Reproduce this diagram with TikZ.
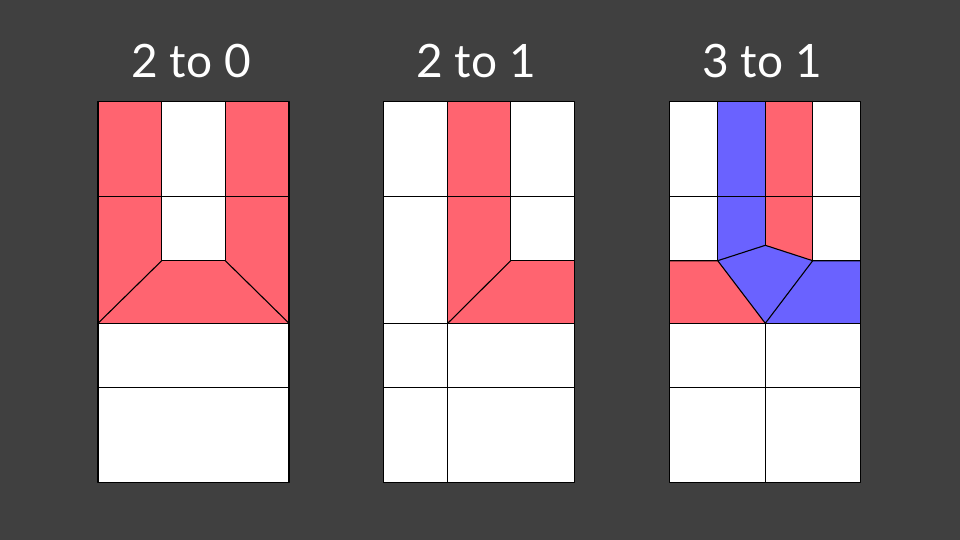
\documentclass[tikz,border=0pt]{standalone}
\usepackage{fontspec}
\setmainfont{Lato}
\definecolor{bg}{HTML}{404040}
\definecolor{rd}{HTML}{FF6470}
\definecolor{bl}{HTML}{6A62FF}
\begin{document}
\begin{tikzpicture}[x=1pt,y=-1pt,
  cell/.style={draw=black,line width=1.1pt,line join=round},
  ttl/.style={text=white,font=\fontsize{46}{46}\selectfont,anchor=base}]
\fill[bg] (0,0) rectangle (960,540);
\useasboundingbox (0,0) rectangle (960,540);
% ---------- panel 1: 2 to 0
\node[ttl] (t1) at (191,78) {2 to 0};
\fill[white] (98,101.7) rectangle (289,482.3);
\fill[rd] (98,101.7) rectangle (161.7,196.7);
\fill[rd] (225.3,101.7) rectangle (289,196.7);
\fill[rd] (98,196.7) -- (161.7,196.7) -- (161.7,260.7) -- (225.3,260.7) -- (225.3,196.7) -- (289,196.7) -- (289,323.3) -- (98,323.3) -- cycle;
\draw[cell] (98,101.7) rectangle (289,482.3);
\draw[cell] (98,196.7) -- (289,196.7);
\draw[cell] (161.7,101.7) -- (161.7,260.7) -- (225.3,260.7) -- (225.3,101.7);
\draw[cell] (98,323.3) -- (161.7,260.7);
\draw[cell] (289,323.3) -- (225.3,260.7);
\draw[cell] (98,323.3) -- (289,323.3);
\draw[cell] (98,387.3) -- (289,387.3);
% ---------- panel 2: 2 to 1
\node[ttl] (t2) at (476,78) {2 to 1};
\fill[white] (383.3,101.7) rectangle (574.3,482.3);
\fill[rd] (447.7,101.7) -- (510.7,101.7) -- (510.7,260.7) -- (574.3,260.7) -- (574.3,323.3) -- (447.7,323.3) -- cycle;
\draw[cell] (383.3,101.7) rectangle (574.3,482.3);
\draw[cell] (383.3,196.7) -- (574.3,196.7);
\draw[cell] (447.7,101.7) -- (447.7,482.3);
\draw[cell] (510.7,101.7) -- (510.7,260.7) -- (574.3,260.7);
\draw[cell] (447.7,323.3) -- (510.7,260.7);
\draw[cell] (383.3,323.3) -- (574.3,323.3);
\draw[cell] (383.3,387.3) -- (574.3,387.3);
% ---------- panel 3: 3 to 1
\node[ttl] (t3) at (762,78) {3 to 1};
\fill[white] (669.3,101.7) rectangle (860.3,482.3);
\fill[bl] (717.7,101.7) -- (765.3,101.7) -- (765.3,245.3) -- (812.7,260.7) -- (860.3,260.7) -- (860.3,323.3) -- (765.3,323.3) -- (717.7,260.7) -- cycle;
\fill[rd] (765.3,101.7) -- (812.7,101.7) -- (812.7,260.7) -- (765.3,245.3) -- cycle;
\fill[rd] (669.3,260.7) -- (717.7,260.7) -- (765.3,323.3) -- (669.3,323.3) -- cycle;
\draw[cell] (669.3,101.7) rectangle (860.3,482.3);
\draw[cell] (669.3,196.7) -- (860.3,196.7);
\draw[cell] (717.7,101.7) -- (717.7,260.7);
\draw[cell] (812.7,101.7) -- (812.7,260.7);
\draw[cell] (765.3,101.7) -- (765.3,245.3);
\draw[cell] (669.3,260.7) -- (717.7,260.7) -- (765.3,245.3) -- (812.7,260.7) -- (860.3,260.7);
\draw[cell] (717.7,260.7) -- (765.3,323.3) -- (812.7,260.7);
\draw[cell] (669.3,323.3) -- (860.3,323.3);
\draw[cell] (669.3,387.3) -- (860.3,387.3);
\draw[cell] (765.3,323.3) -- (765.3,482.3);
\end{tikzpicture}
\end{document}
